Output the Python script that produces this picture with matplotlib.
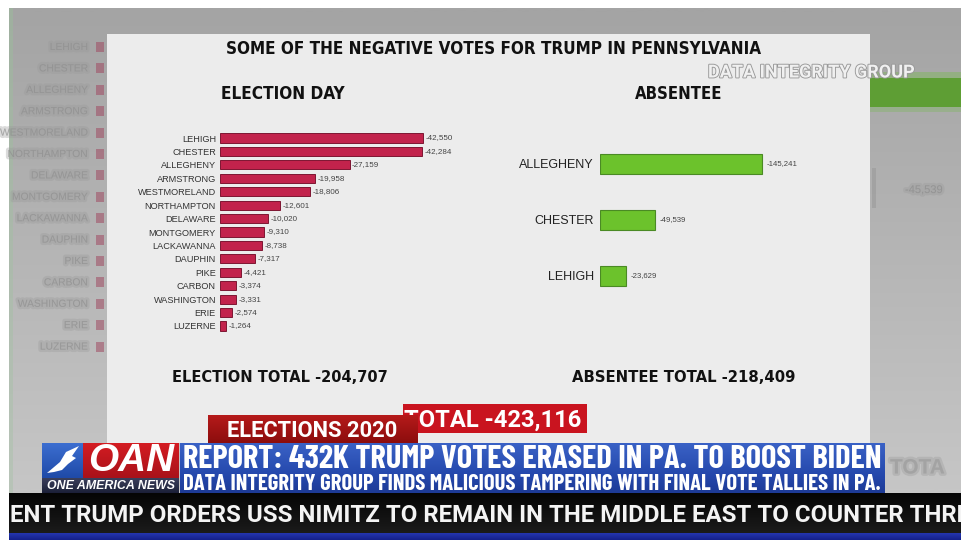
import numpy as np
import matplotlib.pyplot as plt
import matplotlib.patheffects as pe
from matplotlib.patches import Rectangle, Polygon
from matplotlib.colors import to_rgb

# ------------------------------------------------------------
# data read off the broadcast graphic
# ------------------------------------------------------------
election_day_counties = ["LEHIGH", "CHESTER", "ALLEGHENY", "ARMSTRONG", "WESTMORELAND",
                         "NORTHAMPTON", "DELAWARE", "MONTGOMERY", "LACKAWANNA", "DAUPHIN",
                         "PIKE", "CARBON", "WASHINGTON", "ERIE", "LUZERNE"]
election_day_votes = [-42550, -42284, -27159, -19958, -18806, -12601, -10020, -9310,
                      -8738, -7317, -4421, -3374, -3331, -2574, -1264]
absentee_counties = ["ALLEGHENY", "CHESTER", "LEHIGH"]
absentee_votes = [-145241, -49539, -23629]
election_total = -204707
absentee_total = -218409
grand_total = -423116

title = "SOME OF THE NEGATIVE VOTES FOR TRUMP IN PENNSYLVANIA"
headline = "REPORT: 432K TRUMP VOTES ERASED IN PA. TO BOOST BIDEN"
subline = "DATA INTEGRITY GROUP FINDS MALICIOUS TAMPERING WITH FINAL VOTE TALLIES IN PA."
ticker = "ENT TRUMP ORDERS USS NIMITZ TO REMAIN IN THE MIDDLE EAST TO COUNTER THRE"

W, H = 961, 540
PANEL = dict(family=['DejaVu Sans', 'Noto Sans'], stretch='condensed', weight='bold')
HEAD = dict(family=['Barlow Condensed', 'Roboto', 'DejaVu Sans'], stretch='condensed', weight='bold')
TICK = dict(family=['Roboto', 'DejaVu Sans'], stretch='condensed', weight='bold')
SANS = ['Liberation Sans', 'DejaVu Sans']
RED = '#c2234c'
GREEN = '#6cc22c'

fig = plt.figure(figsize=(W / 100, H / 100), dpi=100)
fig.patch.set_facecolor('white')
bg = fig.add_axes([0, 0, 1, 1])
bg.set_xlim(0, W); bg.set_ylim(H, 0); bg.axis('off')
renderer = fig.canvas.get_renderer()


def box(x0, y0, x1, y1, color, z=1, **kw):
    bg.add_patch(Rectangle((x0, y0), x1 - x0, y1 - y0, facecolor=color,
                           edgecolor='none', zorder=z, **kw))


def grad(x0, y0, x1, y1, c_top, c_bot, z=1):
    a, b = np.array(to_rgb(c_top)), np.array(to_rgb(c_bot))
    s = np.linspace(0, 1, 64)[:, None, None]
    img = a * (1 - s) + b * s
    bg.imshow(img, extent=(x0, x1, y1, y0), aspect='auto', zorder=z,
              interpolation='bilinear')


def fit(t, width):
    # scale the font so the text spans the measured pixel width
    for _ in range(2):
        w = t.get_window_extent(renderer).width
        t.set_fontsize(t.get_fontsize() * width / w)
    return t


def px_axes(x0, y0, x1, y1):
    return fig.add_axes([x0 / W, 1 - y1 / H, (x1 - x0) / W, (y1 - y0) / H])


blur = [pe.Stroke(linewidth=3.5, foreground='#9a9a9a', alpha=0.35), pe.Normal()]

# ------------------------------------------------------------
# blurred studio background + light panel
# ------------------------------------------------------------
grad(9, 8, W, 493, '#a4a4a4', '#c6c6c6', z=0)
grad(9, 8, 13, 493, '#9fb09f', '#b8c4b8', z=0.5)
# blurred enlarged copy of the chart behind the panel (left side)
for i, name in enumerate(election_day_counties):
    y = 47 + 21.4 * i
    bg.text(88, y, name, ha='right', va='center', fontsize=7.4, family=SANS,
            color='#8e8e8e', alpha=0.55, zorder=0.6, path_effects=blur)
    box(96, y - 5, 104, y + 5, '#a04a62', z=0.6, alpha=0.55)
# blurred pieces on the right side
box(870, 78, W, 107, '#5e9e34', z=0.6)
box(870, 72, W, 78, '#86b46a', z=0.6, alpha=0.6)
box(870, 107, W, 112, '#8db27a', z=0.6, alpha=0.6)
box(872, 168, 876, 208, '#9a9a9a', z=0.6, alpha=0.6)
bg.text(905, 190, "-45,539", ha='left', va='center', fontsize=8, family=SANS,
        color='#8a8a8a', alpha=0.5, zorder=0.6, path_effects=blur)
bg.text(890, 468, "TOTA", ha='left', va='center', fontsize=15, family=SANS,
        weight='bold', color='#9a9a9a', alpha=0.45, zorder=0.6, path_effects=blur)

box(107, 34, 870, 443, '#ececec', z=1)

# ------------------------------------------------------------
# titles on the panel
# ------------------------------------------------------------
t = bg.text(494, 49, title, ha='center', va='center', fontsize=12,
            color='#111111', zorder=5, **PANEL)
fit(t, 534)
t = bg.text(221, 94, "ELECTION DAY", ha='left', va='center', fontsize=12,
            color='#111111', zorder=5, **PANEL)
fit(t, 124)
t = bg.text(635, 94, "ABSENTEE", ha='left', va='center', fontsize=12,
            color='#111111', zorder=5, **PANEL)
fit(t, 87)
t = bg.text(708, 72.5, "DATA INTEGRITY GROUP", ha='left', va='center', fontsize=12,
            color='#f0f0f0', zorder=6,
            path_effects=[pe.withStroke(linewidth=1.3, foreground='#989898')], **TICK)
fit(t, 207)
t = bg.text(172, 378, f"ELECTION TOTAL {election_total:,}", ha='left', va='center',
            fontsize=12, color='#111111', zorder=5, **PANEL)
fit(t, 216)
t = bg.text(572, 378, f"ABSENTEE TOTAL {absentee_total:,}", ha='left', va='center',
            fontsize=12, color='#111111', zorder=5, **PANEL)
fit(t, 222)

# ------------------------------------------------------------
# election day bars
# ------------------------------------------------------------
axL = px_axes(220, 131.3, 480, 332.7)
mag = np.abs(election_day_votes)
yl = np.arange(len(mag))
axL.barh(yl, mag, height=0.68, color=RED, edgecolor='#7e1632', linewidth=0.7)
axL.set_xlim(0, 260 / 203 * max(mag))
axL.set_ylim(len(mag) - 0.5, -0.5)
axL.set_yticks(yl)
axL.set_yticklabels(election_day_counties, family=SANS, fontsize=6.6, color='#333333')
axL.tick_params(axis='y', length=0, pad=2.9)
axL.set_xticks([])
for s in axL.spines.values():
    s.set_visible(False)
axL.patch.set_alpha(0)
for i, v in enumerate(election_day_votes):
    axL.annotate(f"{v:,}", (abs(v), i), xytext=(1.8, 0), textcoords='offset points',
                 ha='left', va='center', fontsize=5.8, family=SANS, color='#444444')

# ------------------------------------------------------------
# absentee bars
# ------------------------------------------------------------
axR = px_axes(600, 136, 840, 304)
magr = np.abs(absentee_votes)
yr = np.arange(len(magr))
axR.barh(yr, magr, height=0.36, color=GREEN, edgecolor='#4a8a24', linewidth=0.8)
axR.set_xlim(0, 240 / 162 * max(magr))
axR.set_ylim(len(magr) - 0.5, -0.5)
axR.set_yticks(yr)
axR.set_yticklabels(absentee_counties, family=SANS, fontsize=9, color='#222222')
axR.tick_params(axis='y', length=0, pad=4.3)
axR.set_xticks([])
for s in axR.spines.values():
    s.set_visible(False)
axR.patch.set_alpha(0)
for i, v in enumerate(absentee_votes):
    axR.annotate(f"{v:,}", (abs(v), i), xytext=(3, 0), textcoords='offset points',
                 ha='left', va='center', fontsize=5.6, family=SANS, color='#444444')

# ------------------------------------------------------------
# grand total box + broadcast lower third
# ------------------------------------------------------------
box(403, 404, 587, 433, '#c9141f', z=7)
t = bg.text(581, 420, f"TOTAL {grand_total:,}", ha='right', va='center',
            fontsize=16, color='white', zorder=7.5, **TICK)
fit(t, 177)

grad(208, 415, 418, 443, '#b51a1a', '#8c0d0d', z=8)
t = bg.text(312, 431, "ELECTIONS 2020", ha='center', va='center',
            fontsize=16, color='white', zorder=8.5, **TICK)
fit(t, 170)

# blue headline banner
grad(180, 443, 885, 476, '#3a62c6', '#2447ab', z=9)
grad(180, 476, 885, 493, '#2447ab', '#1d3a96', z=9)
t = bg.text(183, 460, headline, ha='left', va='center',
            fontsize=20, color='white', zorder=9.5, **HEAD)
fit(t, 699)
t = bg.text(183, 484.5, subline, ha='left', va='center',
            fontsize=11, color='white', zorder=9.5, **HEAD)
fit(t, 699)

# OAN logo
grad(42, 443, 83, 478, '#3c6ed0', '#1f4aa8', z=9)
bg.add_patch(Polygon([(47, 473), (60, 462), (66, 452), (79, 446), (72, 456),
                      (76, 458), (68, 464), (62, 470), (54, 472)],
                     closed=True, facecolor='white', edgecolor='none', zorder=9.5))
grad(83, 443, 179, 478, '#d41c22', '#a8121a', z=9)
t = bg.text(131, 461, "OAN", ha='center', va='center', family=SANS, weight='bold',
            style='italic', fontsize=22, color='white', zorder=9.5)
fit(t, 86)
grad(42, 478, 179, 493, '#3a3f5c', '#1c2038', z=9)
t = bg.text(111, 486, "ONE AMERICA NEWS", ha='center', va='center', family=SANS,
            weight='bold', style='italic', fontsize=7, color='white', zorder=9.5)
fit(t, 128)

# ticker
grad(9, 493, W, 533, '#050505', '#1b1b1b', z=9)
grad(9, 533, W, H, '#2536b0', '#14208a', z=9)
t = bg.text(10, 516, ticker, ha='left', va='center', fontsize=18,
            color='#f4f4f4', zorder=9.5, clip_on=True, **TICK)
fit(t, 958)

fig.savefig('out.png', dpi=100)
